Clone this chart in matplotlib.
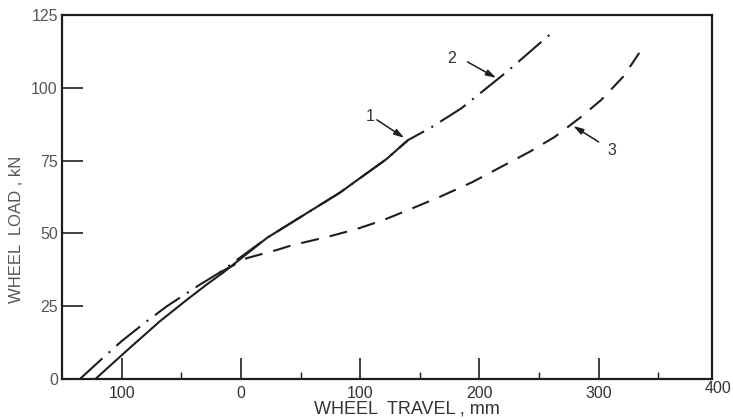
import matplotlib
matplotlib.use("Agg")
import matplotlib.pyplot as plt
from matplotlib.ticker import FixedLocator

plt.rcParams['font.family'] = ['Liberation Sans', 'DejaVu Sans']
plt.rcParams['lines.scale_dashes'] = False

# Curve 1 (solid)
c1_x = [-122, -95, -68, -45, -28.5, -15, 22, 83, 122, 140]
c1_y = [0, 10, 19.8, 27.3, 32.5, 36.5, 48.5, 64, 75.5, 82]
# Curve 2 (dash-dot)
c2_x = [-135, -115, -100, -80, -62, -36, -18, 22, 83, 122, 140, 160, 185, 223, 261]
c2_y = [0, 7.5, 13, 19.5, 25, 32, 36.5, 48.5, 64, 75.5, 82, 86.5, 93, 105.5, 119]
# Curve 3 (dashed)
c3_x = [-18, 5, 30, 43.5, 74.5, 97, 119, 143, 166.5, 194, 218, 242, 263, 284, 302, 321, 334]
c3_y = [36.5, 41.5, 44.3, 46, 49, 51.5, 54.5, 58.5, 62.5, 67.6, 72.8, 78, 83.1, 89.6, 95.8, 104, 112]

x_ticks = [-100, 0, 100, 200, 300]
x_tick_labels = ["100", "0", "100", "200", "300"]
x_minor = [-50, 50, 150, 250, 350]
y_ticks = [0, 25, 50, 75, 100, 125]
y_tick_labels = ["0", "25", "50", "75", "100", "125"]

labels = ["1", "2", "3"]
label_pos = [(108, 90), (177, 110), (311, 78.6)]
arrow_tail = [(114, 89), (190, 108.9), (300, 81.4)]
arrow_head = [(137, 82.8), (214, 103.4), (278.7, 86.9)]

ink = "#1e1e1e"
fig = plt.figure(figsize=(7.33, 4.19), dpi=100)
ax = fig.add_axes([62/733, 1-379/419, 650/733, 364/419])

ax.plot(c1_x, c1_y, color=ink, lw=1.5, solid_capstyle='butt')
ax.plot(c2_x, c2_y, color=ink, lw=1.5, linestyle=(0, (22, 6, 1.5, 6)))
ax.plot(c3_x, c3_y, color=ink, lw=1.5, linestyle=(0, (13, 8)))

for t, lp, tl, hd in zip(labels, label_pos, arrow_tail, arrow_head):
    ax.text(lp[0], lp[1], t, fontsize=11.5, color="#333333", ha='center', va='center')
    ax.annotate("", xy=hd, xytext=tl,
                arrowprops=dict(arrowstyle="-|>,head_length=0.6,head_width=0.18",
                                color=ink, lw=1.1, shrinkA=0, shrinkB=0))

ax.set_xlim(-150, 395)
ax.set_ylim(0, 125)
ax.xaxis.set_major_locator(FixedLocator(x_ticks))
ax.set_xticklabels(x_tick_labels)
ax.xaxis.set_minor_locator(FixedLocator(x_minor))
ax.yaxis.set_major_locator(FixedLocator(y_ticks))
ax.set_yticklabels(y_tick_labels)

ax.tick_params(axis='x', which='major', direction='in', length=15, width=1.2,
               color=ink, labelsize=11.5, labelcolor="#333333", pad=5)
ax.tick_params(axis='x', which='minor', direction='in', length=5, width=1.0, color=ink)
ax.tick_params(axis='y', which='major', direction='in', length=15, width=1.2,
               color=ink, labelsize=11.5, labelcolor="#555555", pad=3)

ax.text(400, -0.025, "400", transform=ax.get_xaxis_transform(), ha='center', va='center',
        fontsize=11.5, color="#333333")

for s in ax.spines.values():
    s.set_linewidth(1.6)
    s.set_color(ink)

ax.set_xlabel("WHEEL  TRAVEL , mm", fontsize=13, color="#333333", labelpad=0)
ax.xaxis.set_label_coords(0.531, -0.06)
ax.set_ylabel("WHEEL  LOAD , kN", fontsize=12, color="#555555")
ax.yaxis.set_label_coords(-0.058, 0.41)

fig.savefig("out.png", dpi=100)
